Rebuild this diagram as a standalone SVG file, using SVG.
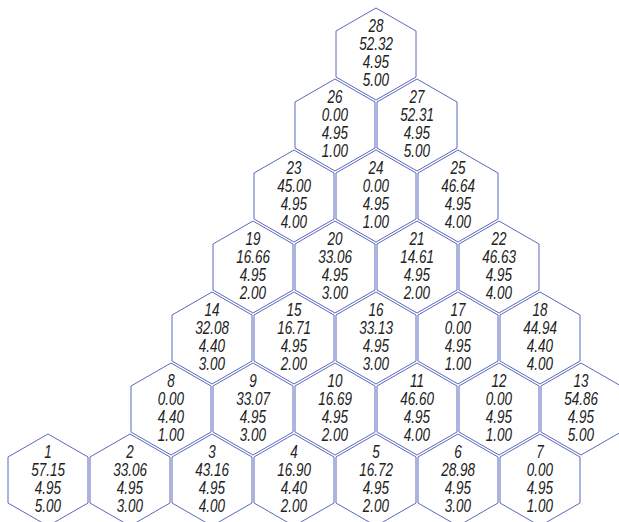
<svg xmlns="http://www.w3.org/2000/svg" xmlns:xlink="http://www.w3.org/1999/xlink" width="619" height="522" viewBox="0 0 619 522">
<style>
.hex{fill:#fff;stroke:#5a68c0;stroke-width:1}
.t{font-family:"Liberation Sans",Arial,sans-serif;font-style:italic;font-size:18px;fill:#222;text-anchor:middle}
</style>
<defs>
<polygon id="hex" class="hex" points="0,-46 40,-23 40,23 0,46 -40,23 -40,-23"/>
</defs>
<rect width="619" height="522" fill="#fff"/>
<g id="connectors"></g>
<g id="nodes">
<g id="n1" transform="translate(48,480)"><use href="#hex"/><text class="t" transform="scale(0.75,1)"><tspan x="0" y="-22">1</tspan><tspan x="0" y="-4">57.15</tspan><tspan x="0" y="14">4.95</tspan><tspan x="0" y="32">5.00</tspan></text></g>
<g id="n2" transform="translate(130,480)"><use href="#hex"/><text class="t" transform="scale(0.75,1)"><tspan x="0" y="-22">2</tspan><tspan x="0" y="-4">33.06</tspan><tspan x="0" y="14">4.95</tspan><tspan x="0" y="32">3.00</tspan></text></g>
<g id="n3" transform="translate(212,480)"><use href="#hex"/><text class="t" transform="scale(0.75,1)"><tspan x="0" y="-22">3</tspan><tspan x="0" y="-4">43.16</tspan><tspan x="0" y="14">4.95</tspan><tspan x="0" y="32">4.00</tspan></text></g>
<g id="n4" transform="translate(294,480)"><use href="#hex"/><text class="t" transform="scale(0.75,1)"><tspan x="0" y="-22">4</tspan><tspan x="0" y="-4">16.90</tspan><tspan x="0" y="14">4.40</tspan><tspan x="0" y="32">2.00</tspan></text></g>
<g id="n5" transform="translate(376,480)"><use href="#hex"/><text class="t" transform="scale(0.75,1)"><tspan x="0" y="-22">5</tspan><tspan x="0" y="-4">16.72</tspan><tspan x="0" y="14">4.95</tspan><tspan x="0" y="32">2.00</tspan></text></g>
<g id="n6" transform="translate(458,480)"><use href="#hex"/><text class="t" transform="scale(0.75,1)"><tspan x="0" y="-22">6</tspan><tspan x="0" y="-4">28.98</tspan><tspan x="0" y="14">4.95</tspan><tspan x="0" y="32">3.00</tspan></text></g>
<g id="n7" transform="translate(540,480)"><use href="#hex"/><text class="t" transform="scale(0.75,1)"><tspan x="0" y="-22">7</tspan><tspan x="0" y="-4">0.00</tspan><tspan x="0" y="14">4.95</tspan><tspan x="0" y="32">1.00</tspan></text></g>
<g id="n8" transform="translate(171,409)"><use href="#hex"/><text class="t" transform="scale(0.75,1)"><tspan x="0" y="-22">8</tspan><tspan x="0" y="-4">0.00</tspan><tspan x="0" y="14">4.40</tspan><tspan x="0" y="32">1.00</tspan></text></g>
<g id="n9" transform="translate(253,409)"><use href="#hex"/><text class="t" transform="scale(0.75,1)"><tspan x="0" y="-22">9</tspan><tspan x="0" y="-4">33.07</tspan><tspan x="0" y="14">4.95</tspan><tspan x="0" y="32">3.00</tspan></text></g>
<g id="n10" transform="translate(335,409)"><use href="#hex"/><text class="t" transform="scale(0.75,1)"><tspan x="0" y="-22">10</tspan><tspan x="0" y="-4">16.69</tspan><tspan x="0" y="14">4.95</tspan><tspan x="0" y="32">2.00</tspan></text></g>
<g id="n11" transform="translate(417,409)"><use href="#hex"/><text class="t" transform="scale(0.75,1)"><tspan x="0" y="-22">11</tspan><tspan x="0" y="-4">46.60</tspan><tspan x="0" y="14">4.95</tspan><tspan x="0" y="32">4.00</tspan></text></g>
<g id="n12" transform="translate(499,409)"><use href="#hex"/><text class="t" transform="scale(0.75,1)"><tspan x="0" y="-22">12</tspan><tspan x="0" y="-4">0.00</tspan><tspan x="0" y="14">4.95</tspan><tspan x="0" y="32">1.00</tspan></text></g>
<g id="n13" transform="translate(581,409)"><use href="#hex"/><text class="t" transform="scale(0.75,1)"><tspan x="0" y="-22">13</tspan><tspan x="0" y="-4">54.86</tspan><tspan x="0" y="14">4.95</tspan><tspan x="0" y="32">5.00</tspan></text></g>
<g id="n14" transform="translate(212,338)"><use href="#hex"/><text class="t" transform="scale(0.75,1)"><tspan x="0" y="-22">14</tspan><tspan x="0" y="-4">32.08</tspan><tspan x="0" y="14">4.40</tspan><tspan x="0" y="32">3.00</tspan></text></g>
<g id="n15" transform="translate(294,338)"><use href="#hex"/><text class="t" transform="scale(0.75,1)"><tspan x="0" y="-22">15</tspan><tspan x="0" y="-4">16.71</tspan><tspan x="0" y="14">4.95</tspan><tspan x="0" y="32">2.00</tspan></text></g>
<g id="n16" transform="translate(376,338)"><use href="#hex"/><text class="t" transform="scale(0.75,1)"><tspan x="0" y="-22">16</tspan><tspan x="0" y="-4">33.13</tspan><tspan x="0" y="14">4.95</tspan><tspan x="0" y="32">3.00</tspan></text></g>
<g id="n17" transform="translate(458,338)"><use href="#hex"/><text class="t" transform="scale(0.75,1)"><tspan x="0" y="-22">17</tspan><tspan x="0" y="-4">0.00</tspan><tspan x="0" y="14">4.95</tspan><tspan x="0" y="32">1.00</tspan></text></g>
<g id="n18" transform="translate(540,338)"><use href="#hex"/><text class="t" transform="scale(0.75,1)"><tspan x="0" y="-22">18</tspan><tspan x="0" y="-4">44.94</tspan><tspan x="0" y="14">4.40</tspan><tspan x="0" y="32">4.00</tspan></text></g>
<g id="n19" transform="translate(253,267)"><use href="#hex"/><text class="t" transform="scale(0.75,1)"><tspan x="0" y="-22">19</tspan><tspan x="0" y="-4">16.66</tspan><tspan x="0" y="14">4.95</tspan><tspan x="0" y="32">2.00</tspan></text></g>
<g id="n20" transform="translate(335,267)"><use href="#hex"/><text class="t" transform="scale(0.75,1)"><tspan x="0" y="-22">20</tspan><tspan x="0" y="-4">33.06</tspan><tspan x="0" y="14">4.95</tspan><tspan x="0" y="32">3.00</tspan></text></g>
<g id="n21" transform="translate(417,267)"><use href="#hex"/><text class="t" transform="scale(0.75,1)"><tspan x="0" y="-22">21</tspan><tspan x="0" y="-4">14.61</tspan><tspan x="0" y="14">4.95</tspan><tspan x="0" y="32">2.00</tspan></text></g>
<g id="n22" transform="translate(499,267)"><use href="#hex"/><text class="t" transform="scale(0.75,1)"><tspan x="0" y="-22">22</tspan><tspan x="0" y="-4">46.63</tspan><tspan x="0" y="14">4.95</tspan><tspan x="0" y="32">4.00</tspan></text></g>
<g id="n23" transform="translate(294,196)"><use href="#hex"/><text class="t" transform="scale(0.75,1)"><tspan x="0" y="-22">23</tspan><tspan x="0" y="-4">45.00</tspan><tspan x="0" y="14">4.95</tspan><tspan x="0" y="32">4.00</tspan></text></g>
<g id="n24" transform="translate(376,196)"><use href="#hex"/><text class="t" transform="scale(0.75,1)"><tspan x="0" y="-22">24</tspan><tspan x="0" y="-4">0.00</tspan><tspan x="0" y="14">4.95</tspan><tspan x="0" y="32">1.00</tspan></text></g>
<g id="n25" transform="translate(458,196)"><use href="#hex"/><text class="t" transform="scale(0.75,1)"><tspan x="0" y="-22">25</tspan><tspan x="0" y="-4">46.64</tspan><tspan x="0" y="14">4.95</tspan><tspan x="0" y="32">4.00</tspan></text></g>
<g id="n26" transform="translate(335,125)"><use href="#hex"/><text class="t" transform="scale(0.75,1)"><tspan x="0" y="-22">26</tspan><tspan x="0" y="-4">0.00</tspan><tspan x="0" y="14">4.95</tspan><tspan x="0" y="32">1.00</tspan></text></g>
<g id="n27" transform="translate(417,125)"><use href="#hex"/><text class="t" transform="scale(0.75,1)"><tspan x="0" y="-22">27</tspan><tspan x="0" y="-4">52.31</tspan><tspan x="0" y="14">4.95</tspan><tspan x="0" y="32">5.00</tspan></text></g>
<g id="n28" transform="translate(376,54)"><use href="#hex"/><text class="t" transform="scale(0.75,1)"><tspan x="0" y="-22">28</tspan><tspan x="0" y="-4">52.32</tspan><tspan x="0" y="14">4.95</tspan><tspan x="0" y="32">5.00</tspan></text></g>
</g>
</svg>
